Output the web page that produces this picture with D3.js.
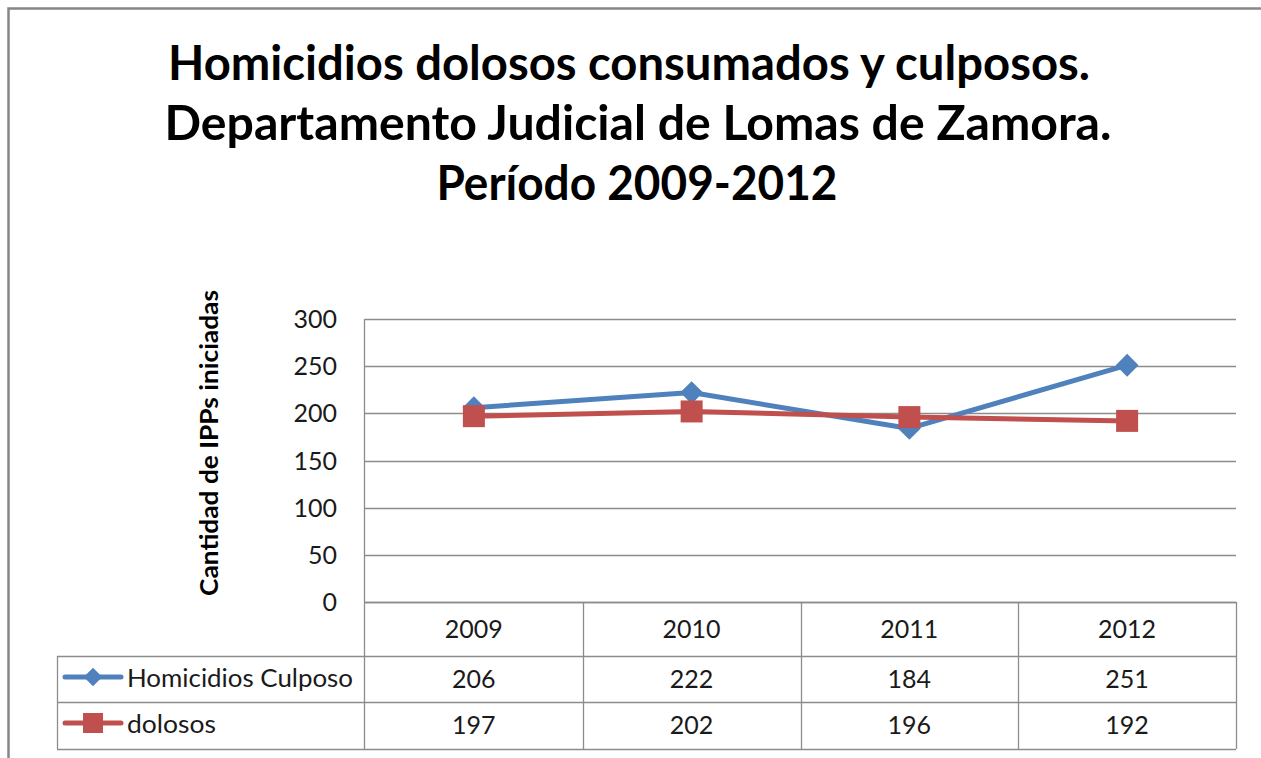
<!DOCTYPE html>
<html>
<head>
<meta charset="utf-8">
<script src="https://cdn.jsdelivr.net/npm/d3@7"></script>
<style>
  html, body { margin: 0; padding: 0; background: #fff; }
  svg { display: block; font-family: Lato, "Open Sans", sans-serif; }
</style>
</head>
<body>
<div id="chart"></div>
<script>
// chart data
const years = ["2009", "2010", "2011", "2012"];
const culposo = [206, 222, 184, 251];
const dolosos = [197, 202, 196, 192];
const yTicks = [0, 50, 100, 150, 200, 250, 300];
const seriesNames = ["Homicidios Culposo", "dolosos"];
const titleLines = [
  "Homicidios dolosos consumados y culposos.",
  "Departamento Judicial de Lomas de Zamora.",
  "Período 2009-2012"
];

const width = 1261, height = 758;
const gridColor = "#8c8c8c";
const colors = ["#4f81bd", "#c0504d"];

const svg = d3.select("#chart")
  .append("svg")
  .attr("width", width)
  .attr("height", height);

// outer frame (cropped at right/bottom like the original)
svg.append("rect")
  .attr("x", 8.5).attr("y", 8.5)
  .attr("width", 1300).attr("height", 800)
  .attr("fill", "none")
  .attr("stroke", "#878787")
  .attr("stroke-width", 2.5);

// title
const titleY = [80, 140, 200];
const titleW = [922, 947, 401];
const titleX = [629, 638, 637];
svg.selectAll(".title")
  .data(titleLines)
  .enter()
  .append("text")
  .attr("class", "title")
  .attr("x", (d, i) => titleX[i])
  .attr("y", (d, i) => titleY[i])
  .attr("text-anchor", "middle")
  .attr("textLength", (d, i) => titleW[i])
  .attr("lengthAdjust", "spacingAndGlyphs")
  .style("font-size", "48px")
  .style("font-weight", "bold")
  .style("fill", "#000")
  .text(d => d);

const x = d3.scaleBand().domain(years).range([365, 1236]);
const y = d3.scaleLinear().domain([0, 300]).range([602, 319]);

// gridlines
svg.append("g")
  .selectAll("line")
  .data(yTicks)
  .enter()
  .append("line")
  .attr("x1", 365).attr("x2", 1236)
  .attr("y1", d => Math.round(y(d)) + 0.5)
  .attr("y2", d => Math.round(y(d)) + 0.5)
  .attr("stroke", gridColor)
  .attr("stroke-width", 1.3);

// y axis line
svg.append("line")
  .attr("x1", 364.5).attr("x2", 364.5)
  .attr("y1", y(300)).attr("y2", 749)
  .attr("stroke", gridColor)
  .attr("stroke-width", 1.3);

// y tick labels
svg.append("g")
  .selectAll("text")
  .data(yTicks)
  .enter()
  .append("text")
  .attr("x", 337)
  .attr("y", d => y(d) + 9)
  .attr("text-anchor", "end")
  .style("font-size", "25px")
  .style("fill", "#1a1a1a")
  .text(d => d);

// y axis title
svg.append("text")
  .attr("transform", "translate(218, 443) rotate(-90)")
  .attr("text-anchor", "middle")
  .attr("textLength", 306)
  .attr("lengthAdjust", "spacingAndGlyphs")
  .style("font-size", "24px")
  .style("font-weight", "bold")
  .style("fill", "#000")
  .text("Cantidad de IPPs iniciadas");

// data table
const table = svg.append("g")
  .attr("stroke", gridColor)
  .attr("stroke-width", 1.3)
  .attr("fill", "none");

// horizontal rules
table.append("line").attr("x1", 365).attr("x2", 1236).attr("y1", 602.5).attr("y2", 602.5);
[656, 702, 749].forEach(yy => {
  table.append("line").attr("x1", 57).attr("x2", 1236).attr("y1", yy + 0.5).attr("y2", yy + 0.5);
});
// vertical rules
years.forEach(yr => {
  table.append("line")
    .attr("x1", Math.round(x(yr) + x.bandwidth()) + 0.5)
    .attr("x2", Math.round(x(yr) + x.bandwidth()) + 0.5)
    .attr("y1", 602).attr("y2", 749);
});
table.append("line").attr("x1", 57.5).attr("x2", 57.5).attr("y1", 656).attr("y2", 749);

// header years
svg.append("g")
  .selectAll("text")
  .data(years)
  .enter()
  .append("text")
  .attr("x", d => x(d) + x.bandwidth() / 2)
  .attr("y", 638)
  .attr("text-anchor", "middle")
  .style("font-size", "25px")
  .style("fill", "#1a1a1a")
  .text(d => d);

const allSeries = [culposo, dolosos];
const rowMid = [679, 725];

allSeries.forEach((vals, si) => {
  svg.append("g")
    .selectAll("text")
    .data(vals)
    .enter()
    .append("text")
    .attr("x", (d, i) => x(years[i]) + x.bandwidth() / 2)
    .attr("y", rowMid[si] + 9)
    .attr("text-anchor", "middle")
    .style("font-size", "25px")
    .style("fill", "#1a1a1a")
    .text(d => d);
});

// legend keys in table
seriesNames.forEach((name, si) => {
  const cy = rowMid[si] - 2;
  svg.append("line")
    .attr("x1", 65).attr("x2", 121)
    .attr("y1", cy).attr("y2", cy)
    .attr("stroke", colors[si])
    .attr("stroke-width", 5)
    .attr("stroke-linecap", "round");
  if (si === 0) {
    svg.append("path")
      .attr("d", d3.symbol().type(d3.symbolSquare).size(170)())
      .attr("transform", `translate(93, ${cy}) rotate(45)`)
      .attr("fill", colors[si]);
  } else {
    svg.append("rect")
      .attr("x", 83).attr("y", cy - 10)
      .attr("width", 20).attr("height", 20)
      .attr("fill", colors[si]);
  }
  svg.append("text")
    .attr("x", 127)
    .attr("y", rowMid[si] + 8)
    .attr("textLength", si === 0 ? 226 : 89)
    .attr("lengthAdjust", "spacingAndGlyphs")
    .style("font-size", "25px")
    .style("fill", "#1a1a1a")
    .text(name);
});

// lines
const line = d3.line()
  .x((d, i) => x(years[i]) + x.bandwidth() / 2)
  .y(d => y(d));

allSeries.forEach((vals, si) => {
  const g = svg.append("g");
  g.append("path")
    .datum(vals)
    .attr("d", line)
    .attr("fill", "none")
    .attr("stroke", colors[si])
    .attr("stroke-width", 5)
    .attr("stroke-linejoin", "round");
  if (si === 0) {
    g.selectAll("path.marker")
      .data(vals)
      .enter()
      .append("path")
      .attr("class", "marker")
      .attr("d", d3.symbol().type(d3.symbolSquare).size(260)())
      .attr("transform", (d, i) => `translate(${x(years[i]) + x.bandwidth() / 2}, ${y(d)}) rotate(45)`)
      .attr("fill", colors[si]);
  } else {
    g.selectAll("rect.marker")
      .data(vals)
      .enter()
      .append("rect")
      .attr("class", "marker")
      .attr("x", (d, i) => x(years[i]) + x.bandwidth() / 2 - 11)
      .attr("y", d => y(d) - 11)
      .attr("width", 22)
      .attr("height", 22)
      .attr("fill", colors[si]);
  }
});
</script>
</body>
</html>
